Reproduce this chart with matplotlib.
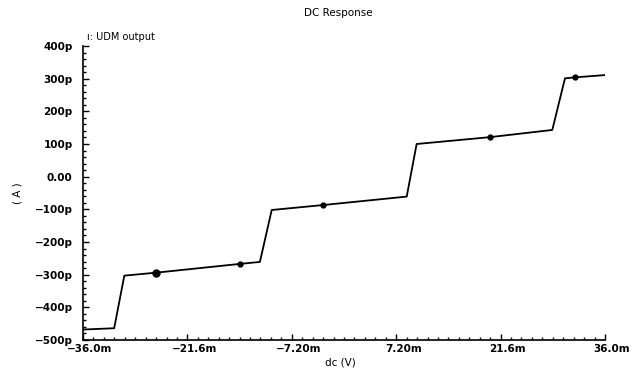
import matplotlib
matplotlib.use("Agg")
import matplotlib.pyplot as plt
from matplotlib.ticker import MultipleLocator, FixedLocator
from matplotlib.transforms import ScaledTranslation

# Data (x in mV, y in pA)
x_mv = [-36.0, -31.7, -30.3, -25.97, -14.34, -11.6, -9.97, -2.94, 8.65, 10.02, 20.14, 28.73, 30.48, 31.86, 36.0]
y_pa = [-468, -464, -303, -294, -267, -261, -102, -87, -61, 100, 121, 143, 301, 304, 311]
marker_x = [-25.97, -14.34, -2.94, 20.14, 31.86]
marker_y = [-294, -267, -87, 121, 304]
marker_sz = [5, 3.5, 3.5, 3.5, 3.5]

xticks = [-36.0, -21.6, -7.2, 7.2, 21.6, 36.0]
xticklabels = ["\u221236.0m", "\u221221.6m", "\u22127.20m", "7.20m", "21.6m", "36.0m"]
yticks = [-500, -400, -300, -200, -100, 0, 100, 200, 300, 400]
yticklabels = ["\u2212500p", "\u2212400p", "\u2212300p", "\u2212200p", "\u2212100p", "0.00", "100p", "200p", "300p", "400p"]

plt.rcParams['font.family'] = ['DejaVu Sans']
fig = plt.figure(figsize=(6.37, 3.72), dpi=100)
ax = fig.add_axes([83/637, 1-340/372, (605-83)/637, (340-46)/372])

ax.plot(x_mv, y_pa, color='black', lw=1.3)
for mx, my, ms in zip(marker_x, marker_y, marker_sz):
    ax.plot([mx], [my], 'o', color='black', ms=ms)

ax.set_xlim(-36, 36)
ax.set_ylim(-500, 400)
for s in ['top', 'right']:
    ax.spines[s].set_visible(False)
ax.spines['left'].set_linewidth(1.2)
ax.spines['bottom'].set_linewidth(1.2)

ax.xaxis.set_major_locator(FixedLocator(xticks))
ax.set_xticklabels(xticklabels, fontsize=7.5, fontweight='bold')
ax.xaxis.set_minor_locator(MultipleLocator(1.44))
ax.yaxis.set_major_locator(FixedLocator(yticks))
ax.set_yticklabels(yticklabels, fontsize=7.5, fontweight='bold')
ax.yaxis.set_minor_locator(MultipleLocator(20))
ax.tick_params(which='major', direction='in', length=4.5, width=1.0)
ax.tick_params(which='minor', direction='in', length=2.5, width=1.0)
ax.tick_params(axis='x', which='major', pad=3)
ax.tick_params(axis='y', which='major', pad=7.5)

offset = ScaledTranslation(7/100, 0, fig.dpi_scale_trans)
for lbl in ax.get_xticklabels():
    lbl.set_transform(lbl.get_transform() + offset)

ax.set_xlabel("dc (V)", fontsize=7.5)
ax.xaxis.set_label_coords((340-83)/522, -0.06)
ax.set_ylabel("( A )", fontsize=7.5)
ax.yaxis.set_label_coords(-(83-23)/522, 0.5)
fig.text(338/637, 1-13/372, "DC Response", ha='center', va='center', fontsize=7.5)
fig.text(87/637, 1-37/372, "\u0131: UDM output", ha='left', va='center', fontsize=7)

fig.savefig("out.png", dpi=100, facecolor='white')
